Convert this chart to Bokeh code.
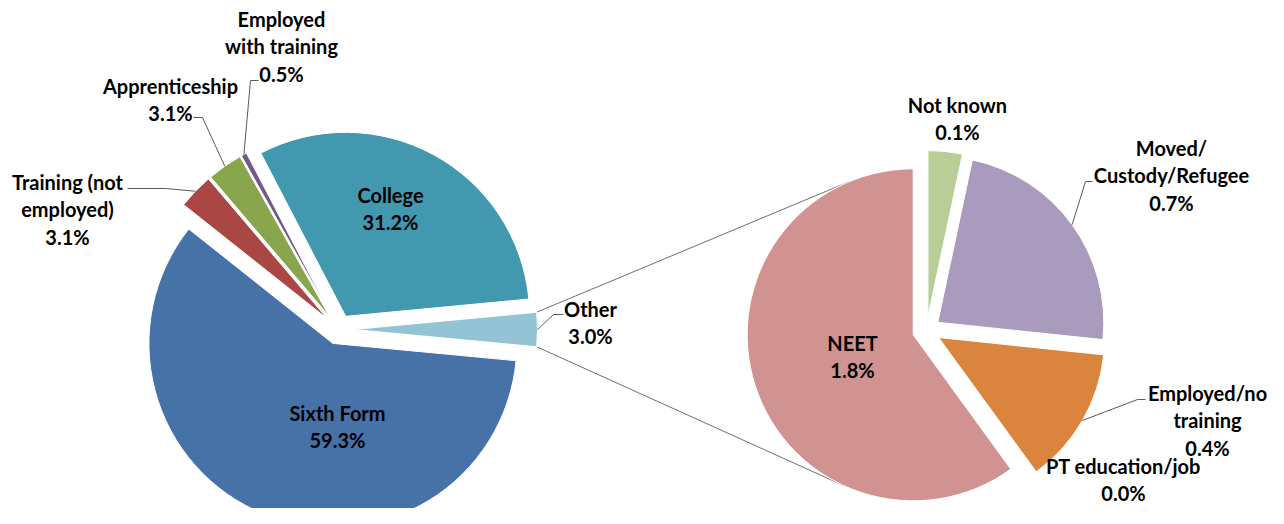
import math
from bokeh.plotting import figure
from bokeh.models import Range1d
from bokeh.core.properties import value
from bokeh.embed import file_html
from bokeh.resources import INLINE

# ---------------- data ----------------
main_labels = ["Other", "College", "Employed with training", "Apprenticeship",
               "Training (not employed)", "Sixth Form"]
main_display = ["Other", "College", "Employed\nwith training", "Apprenticeship",
                "Training (not\nemployed)", "Sixth Form"]
main_values = [3.0, 31.2, 0.5, 3.1, 3.1, 59.3]
main_colors = ["#93C4D5", "#4198AF", "#71588F", "#89A54E", "#AA4643", "#4672A8"]

other_labels = ["NEET", "PT education/job", "Employed/no training",
                "Moved/Custody/Refugee", "Not known"]
other_display = ["NEET", "PT education/job", "Employed/no\ntraining",
                 "Moved/\nCustody/Refugee", "Not known"]
other_values = [1.8, 0.0, 0.4, 0.7, 0.1]
other_colors = ["#D19392", "#4F81BD", "#DB843D", "#A99BBD", "#B9CD96"]

# ---------------- layout (screen px of the reference) ----------------
W, H = 1268, 508
C1, R1, E1 = (338.0, 329.0), 184.0, 15.0
C2, R2, E2 = (926.0, 330.0), 166.0, 14.0
FONT = value("Lato")
FS = "20px"
LH = 1.15

main_label_pos = [(590, 322), (390, 208), (281, 46), (170, 99), (67, 209), (337, 426)]
main_elbows = [[(553, 314), (563, 314)], None, [(250, 80), (258, 80)],
               [(202, 117), (193, 117)], [(165, 188), (127, 188)], None]
other_label_pos = [(852, 356), (1123, 479), (1207, 420), (1171, 175), (957, 118)]
other_elbows = [None, None, [(1137, 399), (1145, 399)], [(1085, 181), (1092, 181)], None]

p = figure(width=W, height=H, output_backend="svg", toolbar_location=None,
           x_range=Range1d(0, W), y_range=Range1d(-H, 0),
           min_border=0, outline_line_color=None)
p.axis.visible = False
p.grid.visible = False


def slices(values, start, center, e):
    total = sum(values)
    out = []
    a = start
    for v in values:
        span = v / total * 2 * math.pi
        mid = a + span / 2
        cx = center[0] + e * math.cos(mid)
        cy = center[1] - e * math.sin(mid)
        out.append((a, a + span, mid, cx, cy))
        a += span
    return out


m_total = sum(main_values)
m_start = -main_values[0] / m_total * math.pi
ms = slices(main_values, m_start, C1, E1)
os_ = slices(other_values, math.pi / 2, C2, E2)

# connector lines (from Other slice corners to second pie)
o = ms[0]
neet = os_[0]
for ang_o, ang_n in ((o[1], math.radians(113)), (o[0], math.radians(245))):
    x0 = o[3] + R1 * math.cos(ang_o)
    y0 = o[4] - R1 * math.sin(ang_o)
    x1 = neet[3] + R2 * math.cos(ang_n)
    y1 = neet[4] - R2 * math.sin(ang_n)
    p.line([x0, x1], [-y0, -y1], line_color="#6F6F6F", line_width=1)

for (s, e_, mid, cx, cy), col, v in zip(ms, main_colors, main_values):
    p.wedge(x=cx, y=-cy, radius=R1, start_angle=s, end_angle=e_,
            fill_color=col, line_color="white", line_width=1)
for (s, e_, mid, cx, cy), col, v in zip(os_, other_colors, other_values):
    if v > 0:
        p.wedge(x=cx, y=-cy, radius=R2, start_angle=s, end_angle=e_,
                fill_color=col, line_color="white", line_width=1)

# leader lines
for sl, el, r in list(zip(ms, main_elbows, [R1] * 6)) + list(zip(os_, other_elbows, [R2] * 5)):
    if el is None:
        continue
    s, e_, mid, cx, cy = sl
    xs = [cx + r * math.cos(mid)] + [q[0] for q in el]
    ys = [cy - r * math.sin(mid)] + [q[1] for q in el]
    p.line(xs, [-y for y in ys], line_color="#595959", line_width=1)

# labels
for txt, v, pos in list(zip(main_display, main_values, main_label_pos)) + \
        list(zip(other_display, other_values, other_label_pos)):
    p.text(x=pos[0], y=-pos[1], text=[f"{txt}\n{v:.1f}%"], text_align="center",
           text_baseline="middle", text_font=FONT, text_font_style="bold",
           text_font_size=FS, text_line_height=LH, text_color="#000000")

open("out.html", "w").write(file_html(p, INLINE))
